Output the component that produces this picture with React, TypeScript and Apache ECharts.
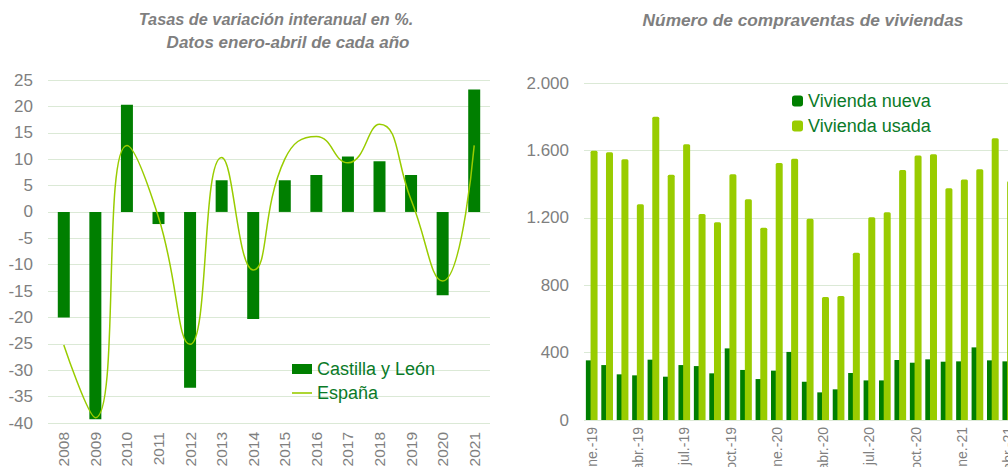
import React, { useEffect, useRef } from "react";
import * as echarts from "echarts";

const years = ["2008","2009","2010","2011","2012","2013","2014","2015","2016","2017","2018","2019","2020","2021"];
const castillaLeon = [-20, -39.3, 20.3, -2.3, -33.3, 6.0, -20.3, 6.0, 7.0, 10.5, 9.6, 7.0, -15.8, 23.2];
const espana = [-25.2, -39.0, 12.6, -1.0, -25.1, 10.3, -11.0, 10.0, 14.3, 9.3, 16.6, 2.3, -13.1, 12.6];

const months = [
  "ene.-19","feb.-19","mar.-19","abr.-19","may.-19","jun.-19","jul.-19","ago.-19","sep.-19","oct.-19","nov.-19","dic.-19",
  "ene.-20","feb.-20","mar.-20","abr.-20","may.-20","jun.-20","jul.-20","ago.-20","sep.-20","oct.-20","nov.-20","dic.-20",
  "ene.-21","feb.-21","mar.-21","abr.-21"
];
const viviendaNueva = [354, 326, 271, 265, 358, 257, 326, 320, 277, 425, 297, 243, 293, 404, 227, 164, 182, 279, 235, 235, 356, 340, 360, 346, 348, 431, 354, 348];
const viviendaUsada = [1598, 1589, 1547, 1280, 1800, 1456, 1636, 1223, 1173, 1458, 1310, 1141, 1525, 1551, 1195, 730, 736, 993, 1203, 1233, 1484, 1569, 1577, 1375, 1428, 1488, 1672, 1418];

const leftTicksMin = -40;
const leftTicksMax = 25;
const rightTicksMax = 2000;

const GRAY = "#7f7f7f";
const GRID = "#dbe9d6";
const DARK = "#007f00";
const LIGHT = "#99cc00";
const LEGEND_TEXT = "#0a7a28";
const FONT = "Liberation Sans, Arial, sans-serif";
const LINE_ICON = "path://M0,0M0,4.2L20,4.2L20,5.8L0,5.8ZM20,10";

export default function App() {
  const ref = useRef<HTMLDivElement>(null);
  useEffect(() => {
    document.body.style.margin = "0";
    const chart = echarts.init(ref.current!, null, { renderer: "svg" });
    const titleStyle = { fontFamily: FONT, fontSize: 17, fontStyle: "italic" as const, fontWeight: "bold" as const, color: GRAY };
    chart.setOption({
      animation: false,
      textStyle: { fontFamily: FONT },
      title: [
        { text: "Tasas de variación interanual en %.", left: 276, top: 11, padding: 0, textAlign: "center", textStyle: { ...titleStyle, fontSize: 16.3 } },
        { text: "Datos enero-abril de cada año", left: 288, top: 34, padding: 0, textAlign: "center", textStyle: titleStyle },
        { text: "Número de compraventas de viviendas", left: 803, top: 11, padding: 0, textAlign: "center", textStyle: { ...titleStyle, fontSize: 17.3 } },
      ],
      legend: [
        {
          orient: "vertical",
          left: 292,
          top: 360,
          padding: 0,
          itemGap: 6,
          itemWidth: 20,
          itemHeight: 10,
          textStyle: { fontSize: 18, color: LEGEND_TEXT, fontFamily: FONT },
          data: [
            { name: "Castilla y León", icon: "rect" },
            { name: "España", icon: LINE_ICON },
          ],
        },
        {
          orient: "vertical",
          left: 792,
          top: 92,
          padding: 0,
          itemGap: 7,
          itemWidth: 11,
          itemHeight: 11,
          textStyle: { fontSize: 18, color: LEGEND_TEXT, fontFamily: FONT },
          data: [
            { name: "Vivienda nueva", icon: "roundRect" },
            { name: "Vivienda usada", icon: "roundRect" },
          ],
        },
      ],
      grid: [
        { left: 48, top: 80, width: 442, height: 343, outerBoundsMode: "none", containLabel: false },
        { left: 584, top: 83, width: 432, height: 337, outerBoundsMode: "none", containLabel: false },
      ],
      xAxis: [
        {
          type: "category",
          gridIndex: 0,
          data: years,
          axisLine: { show: false },
          axisTick: { show: false },
          axisLabel: { rotate: 90, color: GRAY, fontSize: 15.5, margin: 9, fontFamily: FONT },
        },
        {
          type: "category",
          gridIndex: 1,
          data: months,
          axisLine: { show: false },
          axisTick: { show: false },
          axisLabel: { rotate: 90, color: GRAY, fontSize: 14, margin: 7, interval: 2, fontFamily: FONT },
        },
      ],
      yAxis: [
        {
          type: "value",
          gridIndex: 0,
          min: leftTicksMin,
          max: leftTicksMax,
          interval: 5,
          axisLine: { show: false },
          axisTick: { show: false },
          axisLabel: { color: GRAY, fontSize: 17, margin: 15, fontFamily: FONT },
          splitLine: { lineStyle: { color: GRID, width: 1.2 } },
        },
        {
          type: "value",
          gridIndex: 1,
          min: 0,
          max: rightTicksMax,
          interval: 400,
          axisLine: { show: false },
          axisTick: { show: false },
          axisLabel: {
            color: GRAY,
            fontSize: 17,
            margin: 15,
            fontFamily: FONT,
            formatter: (v: number) => v.toString().replace(/\B(?=(\d{3})+(?!\d))/g, "."),
          },
          splitLine: { lineStyle: { color: GRID, width: 1.2 } },
        },
      ],
      series: [
        {
          name: "Castilla y León",
          type: "bar",
          xAxisIndex: 0,
          yAxisIndex: 0,
          data: castillaLeon,
          barWidth: 12,
          itemStyle: { color: DARK },
        },
        {
          name: "España",
          type: "line",
          xAxisIndex: 0,
          yAxisIndex: 0,
          data: espana,
          smooth: 0.5,
          symbol: "none",
          lineStyle: { color: LIGHT, width: 1.5 },
          itemStyle: { color: LIGHT },
        },
        {
          name: "Vivienda nueva",
          type: "bar",
          xAxisIndex: 1,
          yAxisIndex: 1,
          data: viviendaNueva,
          barWidth: 7,
          barGap: "-33%",
          itemStyle: { color: DARK },
        },
        {
          name: "Vivienda usada",
          type: "bar",
          xAxisIndex: 1,
          yAxisIndex: 1,
          data: viviendaUsada,
          barWidth: 7,
          barGap: "-33%",
          itemStyle: { color: LIGHT, borderRadius: [1.5, 1.5, 0, 0] },
        },
      ],
    });
    return () => chart.dispose();
  }, []);
  return <div ref={ref} style={{ width: 1008, height: 467, overflow: "hidden" }} />;
}
